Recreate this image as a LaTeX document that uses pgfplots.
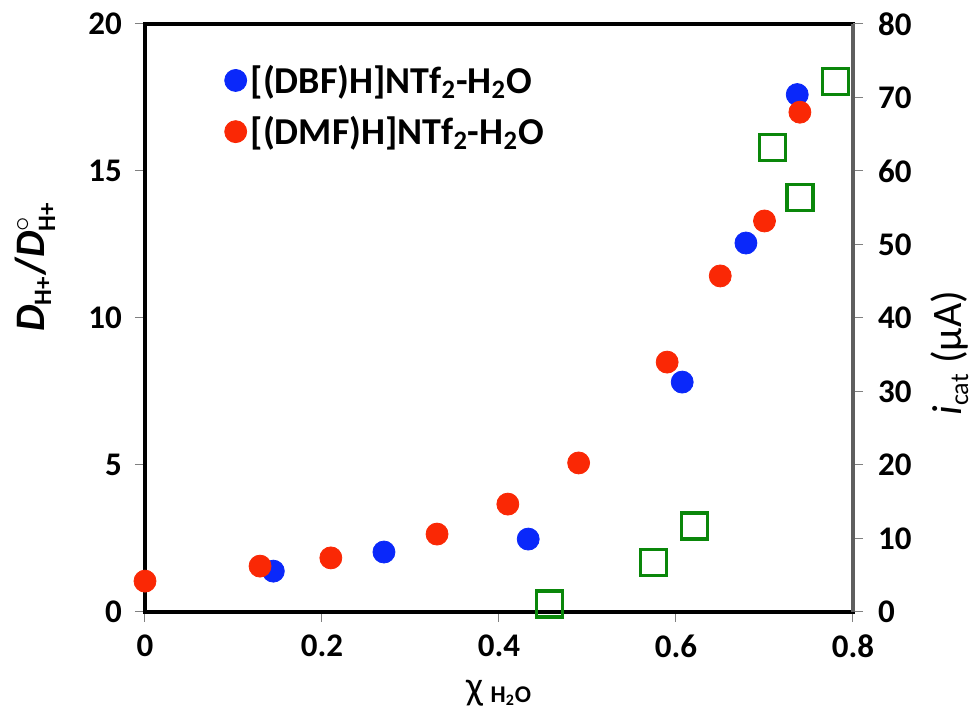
\documentclass[border=0pt]{standalone}
\usepackage{pgfplots}
\pgfplotsset{compat=1.18}
\usepackage{fontspec}
\setmainfont{Carlito}
\definecolor{cblue}{RGB}{10,40,250}
\definecolor{cred}{RGB}{250,40,5}
\definecolor{cgreen}{RGB}{10,135,10}
\definecolor{axgray}{RGB}{95,95,95}
\begin{document}
\begin{tikzpicture}
\begin{axis}[
  name=ax,
  width=354pt, height=294pt, scale only axis,
  xmin=0, xmax=0.8, ymin=0, ymax=20,
  xtick={0,0.2,0.4,0.6,0.8}, ytick={0,5,10,15,20},
  xtick pos=bottom, ytick pos=left,
  tick align=outside, major tick length=5pt,
  tick style={gray, line width=0.5pt},
  axis line style={black, line width=1.6pt},
  /pgf/number format/assume math mode=true,
  xticklabel style={font=\fontsize{16.5}{18}\selectfont\bfseries, yshift=-3pt},
  yticklabel style={font=\fontsize{16.5}{18}\selectfont\bfseries, xshift=-3pt},
  xticklabels={0,0.2,0.4,0.6,0.8},
  scaled x ticks=false,
  xlabel={χ\,\raisebox{-0.15ex}{\fontsize{12}{13}\selectfont\bfseries H\textsubscript{2}O}},
  xlabel style={font=\fontsize{20}{22}\selectfont, at={(axis description cs:0.5,-0.138)}, anchor=center},
  ylabel={\textbf{\textit{D}$_{\mbox{\fontsize{12.5}{13}\selectfont\bfseries H+}}$/\textit{D}$^{\circ}_{\mbox{\fontsize{12.5}{13}\selectfont\bfseries H+}}$}},
  ylabel style={font=\fontsize{21}{23}\selectfont, at={(axis description cs:-0.155,0.587)}, anchor=center, rotate=0},
  legend style={draw=none, fill=none, at={(axis description cs:0.112,0.938)}, anchor=north west,
    font=\fontsize{19}{21}\selectfont\bfseries, row sep=6pt, inner sep=0pt,
    /tikz/every even column/.append style={column sep=4pt}},
  legend cell align=left,
  clip=false,
]
\addplot[only marks, mark=*, mark size=5.5pt, color=cblue] coordinates {
 (0.145,1.39) (0.27,2.04) (0.433,2.48) (0.607,7.82) (0.679,12.55) (0.737,17.6)
};
\addlegendentry{[(DBF)H]NTf\textsubscript{2}-H\textsubscript{2}O}
\addplot[only marks, mark=*, mark size=5.5pt, color=cred] coordinates {
 (0,1.05) (0.13,1.56) (0.21,1.84) (0.33,2.65) (0.41,3.67) (0.49,5.07) (0.59,8.5) (0.65,11.43) (0.70,13.3) (0.74,17.0)
};
\addlegendentry{[(DMF)H]NTf\textsubscript{2}-H\textsubscript{2}O}
\end{axis}
\begin{axis}[
  width=354pt, height=294pt, scale only axis,
  xmin=0, xmax=0.8, ymin=0, ymax=80,
  axis x line=none, axis y line*=right,
  ytick={0,10,...,80},
  tick align=outside, major tick length=5pt,
  tick style={gray, line width=0.5pt},
  axis line style={axgray, line width=2pt},
  /pgf/number format/assume math mode=true,
  yticklabel style={font=\fontsize{16.5}{18}\selectfont\bfseries, xshift=4pt},
  ylabel={\textit{i}$_{\mbox{\fontsize{13}{14}\selectfont cat}}$ (μA)},
  ylabel style={font=\fontsize{21}{23}\selectfont, at={(axis description cs:1.137,0.44)}, anchor=center},
  clip=false,
]
\addplot[only marks, mark=square, mark size=6.5pt, line width=1.6pt, color=cgreen] coordinates {
 (0.457,1.1) (0.575,6.7) (0.621,11.7) (0.709,63.2) (0.74,56.4) (0.78,72.2)
};
\end{axis}
\pgfresetboundingbox
\path[use as bounding box] ([shift={(-72.5pt,-48.5pt)}]ax.south west) rectangle ([shift={(62pt,12pt)}]ax.north east);
\end{tikzpicture}
\end{document}
